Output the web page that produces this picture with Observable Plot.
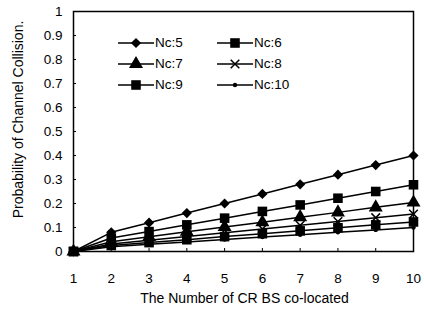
<!DOCTYPE html>
<html><head><meta charset="utf-8">
<script src="https://cdn.jsdelivr.net/npm/d3@7"></script>
<script src="https://cdn.jsdelivr.net/npm/@observablehq/plot@0.6"></script>
<style>
body{margin:0;background:#fff;}
#wrap{position:relative;width:424px;height:311px;font-family:"Liberation Sans",Arial,sans-serif;}
#legend{position:absolute;left:118px;top:33px;font-size:13.5px;color:#000;}
.item{position:absolute;width:100px;height:20px;}
.item svg{position:absolute;left:0;top:0;}
.item span{position:absolute;left:37px;top:2px;white-space:nowrap;}
</style></head>
<body><div id="wrap"><div id="legend"></div></div>
<script>
const nBS = [1,2,3,4,5,6,7,8,9,10];
const seriesNames = ["Nc:5","Nc:6","Nc:7","Nc:8","Nc:9","Nc:10"];
const nc5  = [0,0.08,0.12,0.16,0.20,0.24,0.28,0.32,0.36,0.40];
const nc6  = [0,0.056,0.083,0.111,0.139,0.167,0.194,0.222,0.25,0.278];
const nc7  = [0,0.041,0.061,0.082,0.102,0.122,0.143,0.163,0.184,0.204];
const nc8  = [0,0.031,0.047,0.063,0.078,0.094,0.109,0.125,0.141,0.156];
const nc9  = [0,0.025,0.037,0.049,0.062,0.074,0.086,0.099,0.111,0.123];
const nc10 = [0,0.02,0.03,0.04,0.05,0.06,0.07,0.08,0.09,0.10];
const yTicks = [0,0.1,0.2,0.3,0.4,0.5,0.6,0.7,0.8,0.9,1];

const allSeries = [nc5,nc6,nc7,nc8,nc9,nc10];
const data = [];
allSeries.forEach((vals,i)=>vals.forEach((v,j)=>data.push({s:seriesNames[i],x:nBS[j],y:v})));

const sym = {"Nc:5":"diamond2","Nc:6":"square","Nc:7":"triangle","Nc:8":"times","Nc:9":"square","Nc:10":"circle"};
const rr  = {"Nc:5":4.6,"Nc:6":5.4,"Nc:7":5.2,"Nc:8":4,"Nc:9":5.4,"Nc:10":2.2};

const marks = [
  Plot.frame({stroke:"black",strokeWidth:1.5}),
  Plot.axisY({ticks:yTicks,tickSize:-3,tickPadding:14,tickFormat:d=>String(+d.toFixed(1)),label:null,fontSize:13.5}),
  Plot.axisX({ticks:nBS,tickSize:-3,tickPadding:25,label:null,fontSize:13.5}),
  Plot.text(["Probability of Channel Collision."],{frameAnchor:"left",textAnchor:"middle",rotate:-90,dx:-55,dy:-12,fontSize:14}),
  Plot.text(["The Number of CR BS co-located"],{frameAnchor:"bottom",dy:51,dx:1,fontSize:14}),
  Plot.line(data,{x:"x",y:"y",z:"s",stroke:"black",strokeWidth:1.5})
];
seriesNames.forEach(s=>{
  const d = data.filter(e=>e.s===s);
  if (sym[s]==="times") marks.push(Plot.dot(d,{x:"x",y:"y",symbol:"times",r:rr[s],stroke:"black",strokeWidth:1.5}));
  else marks.push(Plot.dot(d,{x:"x",y:"y",symbol:sym[s],r:rr[s],fill:"black",stroke:"none"}));
});

const chart = Plot.plot({
  width:424,height:311,
  marginLeft:73,marginRight:11,marginTop:11,marginBottom:60,
  style:{fontFamily:"Liberation Sans, Arial, sans-serif",fontSize:"13px",color:"black",background:"white"},
  x:{domain:[1,10]},
  y:{domain:[0,1]},
  marks
});
document.getElementById("wrap").prepend(chart);

// legend
const leg = document.getElementById("legend");
const order = ["Nc:5","Nc:6","Nc:7","Nc:8","Nc:9","Nc:10"];
order.forEach((s,i)=>{
  const col = i%2, row = Math.floor(i/2);
  const div = document.createElement("div");
  div.className="item";
  div.style.left = (col*99)+"px";
  div.style.top = (row*21)+"px";
  const svg = d3.create("svg").attr("width",40).attr("height",20);
  svg.append("line").attr("x1",0).attr("x2",36).attr("y1",10).attr("y2",10).attr("stroke","black").attr("stroke-width",1.5);
  const sy = {"diamond2":d3.symbolDiamond2,"square":d3.symbolSquare,"triangle":d3.symbolTriangle,"times":d3.symbolTimes,"circle":d3.symbolCircle}[sym[s]];
  const p = svg.append("path").attr("transform","translate(18,10)").attr("d",d3.symbol(sy,rr[s]*rr[s]*Math.PI)());
  if (sym[s]==="times") p.attr("fill","none").attr("stroke","black").attr("stroke-width",1.5);
  else p.attr("fill","black");
  div.appendChild(svg.node());
  const sp = document.createElement("span"); sp.textContent = s; div.appendChild(sp);
  leg.appendChild(div);
});
</script></body></html>
